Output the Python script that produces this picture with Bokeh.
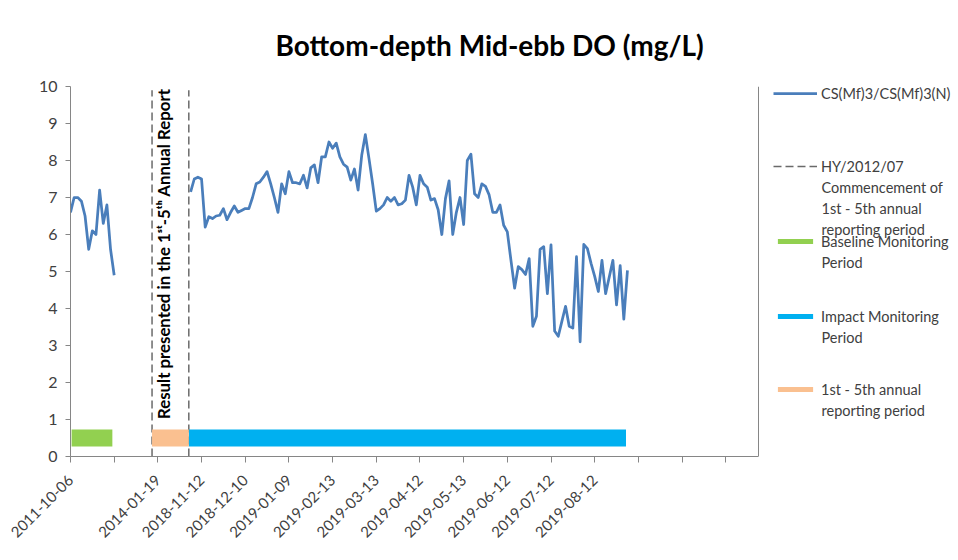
from math import pi
import numpy as np
from bokeh.plotting import figure
from bokeh.models import FixedTicker, Legend, LegendItem, Label, Range1d, Span
from bokeh.embed import file_html
from bokeh.resources import INLINE

# ---------------- data ----------------
TITLE = "Bottom-depth Mid-ebb DO (mg/L)"
SERIES_NAME = "CS(Mf)3/CS(Mf)3(N)"

# category axis (one category per sampling day); a tick every 12 categories
n_categories = 189
tick_positions = [0, 12, 24, 36, 48, 60, 72, 84, 96, 108, 120, 132, 144, 156, 168, 180]
tick_labels = ["2011-10-06", "", "2014-01-19", "2018-11-12", "2018-12-10", "2019-01-09",
               "2019-02-13", "2019-03-13", "2019-04-12", "2019-05-13", "2019-06-12",
               "2019-07-12", "2019-08-12", "", "", ""]

# baseline monitoring (HY/2012/07 era) DO values, mg/L
baseline_start = 0
baseline_do = [6.6, 7.0, 7.0, 6.9, 6.5, 5.6, 6.1, 6.0, 7.2, 6.3, 6.8, 5.6, 4.9]

# impact monitoring DO values, mg/L
impact_start = 33
impact_do = [7.15, 7.5, 7.55, 7.5, 6.2, 6.48, 6.43, 6.5, 6.52, 6.7,
             6.4, 6.6, 6.77, 6.6, 6.65, 6.7, 6.7, 7.0, 7.37, 7.42,
             7.55, 7.7, 7.37, 7.0, 6.6, 7.37, 7.1, 7.7, 7.4, 7.4,
             7.37, 7.6, 7.26, 7.8, 7.88, 7.4, 8.1, 8.1, 8.5, 8.33,
             8.47, 8.1, 7.9, 7.82, 7.47, 7.77, 7.2, 8.14, 8.7, 8.05,
             7.37, 6.63, 6.7, 6.8, 7.0, 6.9, 7.0, 6.8, 6.83, 6.93,
             7.6, 7.28, 6.8, 7.6, 7.37, 7.28, 6.93, 6.97, 6.67,
             6.0, 6.97, 7.45, 6.0, 6.6, 7.0, 6.27, 8.0, 8.17, 7.1,
             7.0, 7.37, 7.3, 7.07, 6.6, 6.6, 6.8, 6.25, 6.07, 5.3,
             4.55, 5.13, 5.05, 4.92, 5.35, 3.52, 3.79, 5.6, 5.67, 4.4,
             5.72, 3.39, 3.25, 3.66, 4.06, 3.52, 3.47, 5.4, 3.1, 5.73,
             5.62, 5.22, 4.87, 4.46, 5.3, 4.4, 4.85, 5.3, 4.1, 5.16, 3.71,
             5.03]

# monitoring periods drawn as bars along the bottom (category spans)
period_names = ["Baseline Monitoring\nPeriod", "Impact Monitoring\nPeriod",
                "1st - 5th annual\nreporting period"]
period_start = [0.3, 32.5, 22.4]
period_end = [11.5, 152.6, 32.5]
period_colors = ["#92d050", "#00b0f0", "#fac090"]
period_level = 0.5
period_thickness = 0.46

# vertical markers: commencement of 1st-5th annual reporting period
marker_name = "HY/2012/07\nCommencement of\n1st - 5th annual\nreporting period"
marker_x = [22.4, 32.5]
marker_top = 9.9

annotation_text = "Result presented in the 1\u02e2\u1d57-5\u1d57\u02b0 Annual Report"

# ---------------- figure ----------------
FONT = "Lato"
TXT = "#404040"
AX = "#868686"

W, H = 958, 560
LEFT, TOP, BOTTOM = 70, 84, 104
AXIS_PX = 688                       # width of the category axis in pixels
frame_w = W - LEFT
x_end = n_categories * frame_w / AXIS_PX   # extra room on the right holds the legend

p = figure(width=W, height=H, output_backend="svg", toolbar_location=None,
           x_range=Range1d(0, x_end), y_range=Range1d(0, 10),
           min_border_left=LEFT, min_border_right=0, min_border_top=TOP,
           min_border_bottom=BOTTOM)
p.outline_line_color = None
p.xgrid.visible = False
p.ygrid.visible = False
p.background_fill_color = "white"
p.border_fill_color = "white"

p.title.text = TITLE
p.title.align = "left"
p.title.offset = 205
p.title.standoff = 50
p.title.text_font = FONT
p.title.text_font_style = "bold"
p.title.text_font_size = "28px"
p.title.text_color = "black"

# DO line (gap between baseline and impact periods)
x_line = list(range(baseline_start, baseline_start + len(baseline_do))) + [np.nan] + \
    list(range(impact_start, impact_start + len(impact_do)))
y_line = baseline_do + [np.nan] + impact_do
r_line = p.line(x_line, y_line, line_color="#4a7ebb", line_width=2.75, line_join="round")

# dashed markers
r_mark = p.segment(x0=marker_x, y0=[0, 0], x1=marker_x, y1=[marker_top, marker_top],
                   line_color="#6a6a6a", line_width=1.5, line_dash="8 4")

# period bars
r_periods = []
for s, e, c in zip(period_start, period_end, period_colors):
    r = p.hbar(y=[period_level], left=[s], right=[e], height=period_thickness,
               fill_color=c, line_color=None)
    r_periods.append(r)

# vertical annotation between markers
p.add_layout(Label(x=25.6, y=5.48, text=annotation_text, angle=pi / 2,
                   text_align="center", text_baseline="middle",
                   text_font=FONT, text_font_style="bold",
                   text_font_size="16.8px", text_color="black"))

# plot-area right border
p.add_layout(Span(location=n_categories, dimension="height", line_color=AX, line_width=1))

# axes
xa = p.xaxis[0]
xa.bounds = (0, n_categories)
xa.ticker = FixedTicker(ticks=tick_positions)
xa.major_label_overrides = {t: l for t, l in zip(tick_positions, tick_labels)}
xa.major_label_orientation = pi / 4
xa.axis_line_color = AX
xa.major_tick_line_color = AX
xa.major_tick_out = 6
xa.major_tick_in = 0
xa.minor_tick_line_color = None
xa.major_label_text_font = FONT
xa.major_label_text_font_size = "15px"
xa.major_label_text_color = TXT
xa.major_label_standoff = 15

ya = p.yaxis[0]
ya.ticker = FixedTicker(ticks=list(range(0, 11)))
ya.axis_line_color = AX
ya.major_tick_line_color = AX
ya.major_tick_out = 5
ya.major_tick_in = 0
ya.minor_tick_line_color = None
ya.major_label_text_font = FONT
ya.major_label_text_font_size = "16px"
ya.major_label_text_color = TXT
ya.major_label_standoff = 8

# legend: one box per entry so each sample sits on its first text line
LEG_X = 703
GLYPH_W = 44
STANDOFF = 4
entries = [
    (SERIES_NAME, [r_line], 93, 20),
    (marker_name, [r_mark], 166, 20),
    (period_names[0], [r_periods[0]], 241, 6),
    (period_names[1], [r_periods[1]], 316, 6),
    (period_names[2], [r_periods[2]], 389, 6),
]
LINE_H = 21
FRAME_BOTTOM = H - BOTTOM
for label, rends, yc, gh in entries:
    lines = label.split("\n")
    leg = Legend(items=[LegendItem(label=lines[0], renderers=rends)],
                 location=(LEG_X, FRAME_BOTTOM - yc - 10), padding=0, margin=0, spacing=0,
                 border_line_color=None, background_fill_alpha=0,
                 glyph_width=GLYPH_W, glyph_height=gh, label_height=20,
                 label_standoff=STANDOFF, label_text_font=FONT,
                 label_text_font_size="14.5px", label_text_color=TXT)
    p.add_layout(leg)
    for k, extra in enumerate(lines[1:], start=1):
        p.add_layout(Label(x=LEG_X + GLYPH_W + STANDOFF, y=FRAME_BOTTOM - (yc + k * LINE_H),
                           x_units="screen", y_units="screen", text=extra,
                           text_baseline="middle", text_align="left",
                           text_font=FONT, text_font_size="14.5px",
                           text_color=TXT))

open("out.html", "w").write(file_html(p, INLINE))
